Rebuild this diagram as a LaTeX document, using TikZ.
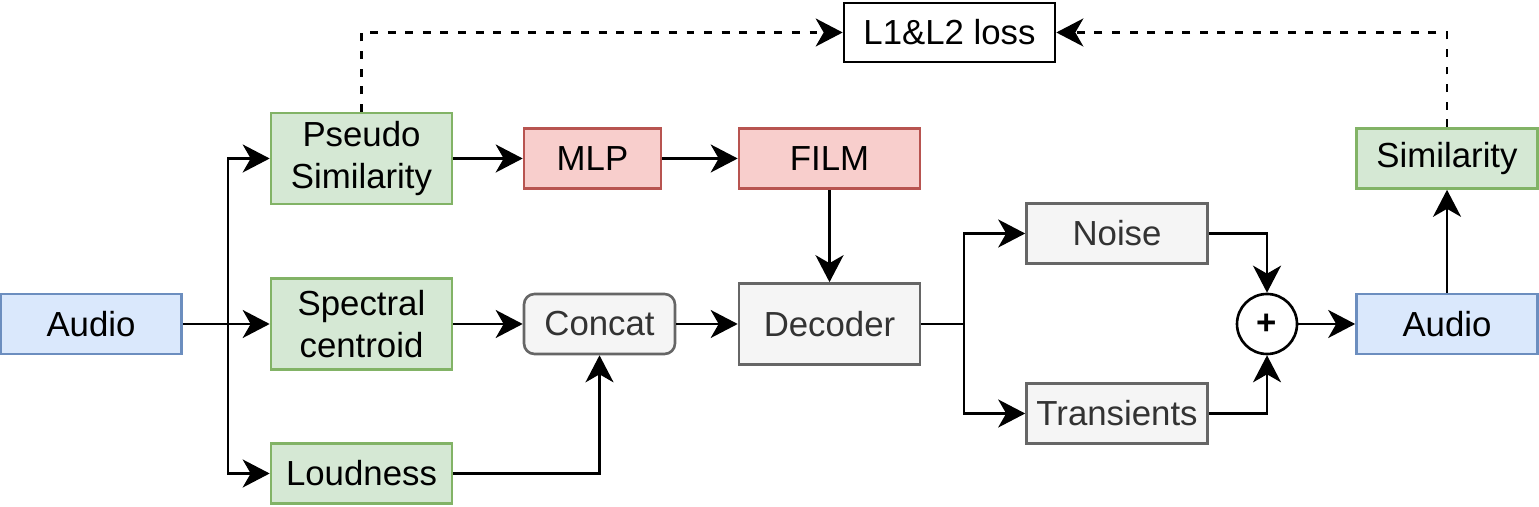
\documentclass[tikz,border=0pt]{standalone}
\usepackage{fontspec}
\setmainfont{Liberation Sans}
\usepackage{tikz}
\usetikzlibrary{arrows.meta}
\usepackage{color}
\definecolor{Blue-f}{HTML}{DAE8FC}
\definecolor{Blue-d}{HTML}{6C8EBF}
\definecolor{Green-f}{HTML}{D5E8D4}
\definecolor{Green-d}{HTML}{82B366}
\definecolor{Red-f}{HTML}{F8CECC}
\definecolor{Red-d}{HTML}{B85450}
\definecolor{Grey-f}{HTML}{F5F5F5}
\definecolor{Grey-d}{HTML}{666666}
\definecolor{Grey-t}{HTML}{333333}
\tikzset{ sig/.style ={draw=Blue-d,  fill=Blue-f,  rectangle, minimum width=3.62cm, minimum height=1.2cm, inner sep=0pt, text=black } }
\tikzset{ feat/.style={draw=Green-d, fill=Green-f, rectangle, minimum width=3.62cm, minimum height=1.2cm, inner sep=0pt, text=black, align=center } }
\tikzset{ net/.style ={draw=Red-d,   fill=Red-f,   rectangle, minimum width=3.62cm, minimum height=1.2cm, inner sep=0pt, text=black } }
\tikzset{ blk/.style ={draw=Grey-d,  fill=Grey-f,  rectangle, minimum width=3.62cm, minimum height=1.2cm, inner sep=0pt, text=Grey-t } }
\tikzset{ sum/.style ={draw=black,   fill=white,   circle,    minimum size=1.2cm, inner sep=0pt, text=black, font=\fontsize{19.8}{24}\selectfont\bfseries } }
\tikzset{ lbox/.style={draw=black,   fill=white,   rectangle, minimum width=4.22cm, minimum height=1.18cm, inner sep=0pt, text=black } }

\begin{document}
\begin{tikzpicture}[line width=1.5pt, >={Stealth[length=5.4mm, width=5.6mm, inset=1.6mm]},
    every node/.style={font=\fontsize{19.8}{24}\selectfont}]
    \useasboundingbox (0,0) rectangle (30.78,10.14);

    \node[sig ] (c0_n0) at ( 1.82, 3.66) {Audio};

    \node[feat] (c1_n0) at ( 7.23, 6.97) [minimum height=1.82cm] {Pseudo\\Similarity};
    \node[feat] (c1_n1) at ( 7.23, 3.66) [minimum height=1.82cm] {Spectral\\centroid};
    \node[feat] (c1_n2) at ( 7.23, 0.67) {Loudness};

    \coordinate (c0_split) at (4.56, 3.66);

    \draw[->] (c0_n0)    -- (c1_n1);
    \draw[->] (c0_split) |- (c1_n0);
    \draw[->] (c0_split) |- (c1_n2);

    \node[net ] (c2_n0) at (11.85, 6.97) [minimum width=2.74cm] {MLP};
    \node[blk ] (c2_n1) at (11.99, 3.66) [minimum width=3.02cm, rounded corners=6pt] {Concat};

    \draw[->] (c1_n0) -- (c2_n0);
    \draw[->] (c1_n1) -- (c2_n1);
    \draw[->] (c1_n2) -| (c2_n1);

    \node[net ] (c3_n0) at (16.59, 6.97) {FILM};
    \node[blk ] (c3_n1) at (16.59, 3.66) [minimum height=1.62cm] {Decoder};

    \draw[->] (c2_n0) -- (c3_n0);
    \draw[->] (c2_n1) -- (c3_n1);
    \draw[->] (c3_n0) -- (c3_n1);

    \node[blk ] (c4_n0) at (22.34, 5.47) {Noise};
    \node[blk ] (c4_n1) at (22.34, 1.87) {Transients};

    \coordinate (c3_split) at (19.28, 3.66);

    \draw     (c3_n1)    -- (c3_split);
    \draw[->] (c3_split) |- (c4_n0);
    \draw[->] (c3_split) |- (c4_n1);

    \node[sum ] (c5_n0) at (25.34, 3.66) {+};

    \draw[->] (c4_n0) -| (c5_n0);
    \draw[->] (c4_n1) -| (c5_n0);

    \node[sig ] (c6_n0) at (28.94, 3.66) {Audio};
    \node[feat] (c6_n1) at (28.94, 6.97) {Similarity};

    \draw[->] (c5_n0) -- (c6_n0);
    \draw[->] (c6_n0) -- (c6_n1);

    \node[lbox] (loss) at (18.99, 9.49) {L1\&L2 loss};

    \draw[->, dash pattern=on 4.5pt off 5.5pt] (c1_n0) |- (loss);
    \draw[->, dash pattern=on 4.5pt off 5.5pt] (c6_n1) |- (loss);
\end{tikzpicture}
\end{document}
